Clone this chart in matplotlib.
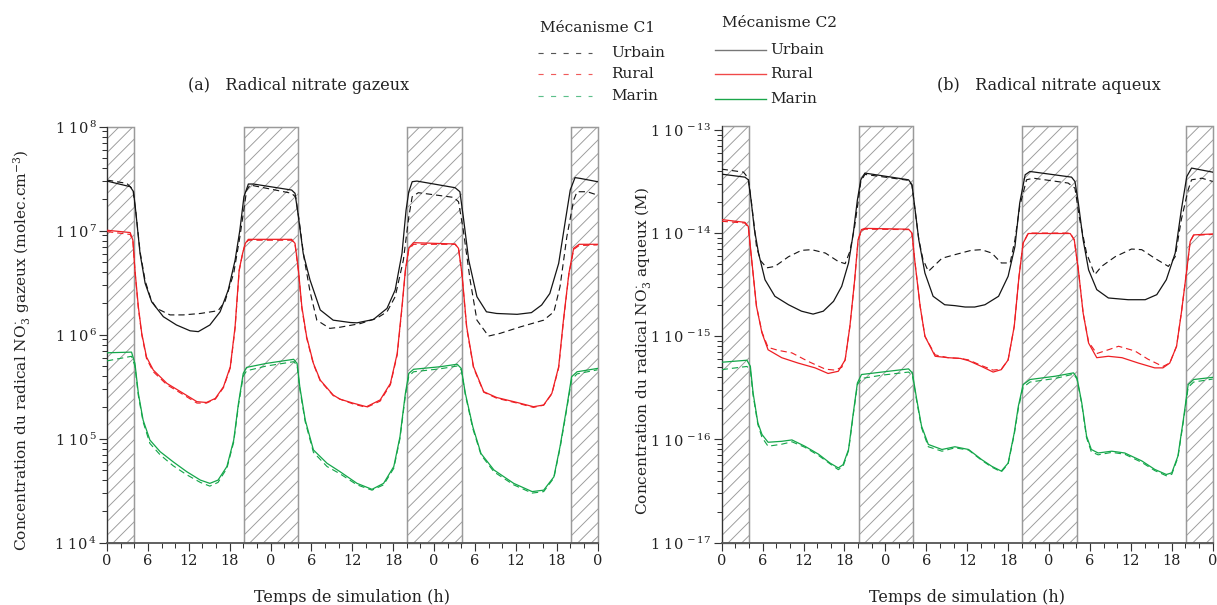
import numpy as np
import matplotlib
matplotlib.use("Agg")
import matplotlib.pyplot as plt
from matplotlib.lines import Line2D
from matplotlib.ticker import FixedLocator, FuncFormatter, LogLocator, NullFormatter

# ---------------------------------------------------------------- data
# Night periods (h) shown as hatched bands
night_starts = [0.0, 20.1, 44.1, 68.1]
night_ends = [4.0, 28.1, 52.1, 72.0]

# x axis: 3 days of simulation, labelled as the hour of the day
hour_ticks = [0, 6, 12, 18, 24, 30, 36, 42, 48, 54, 60, 66, 72]
hour_labels = ["0", "6", "12", "18", "0", "6", "12", "18", "0", "6", "12", "18", "0"]

# (a) gas-phase NO3 radical (molec.cm-3)
gas_c2_urbain_h = [0, 3.4, 3.9, 4.25, 4.85, 5.6, 6.56, 8.27, 10.2, 12.2, 13.4, 15.1, 16.6, 17.8, 18.8,
                   19.5, 20.1, 20.75, 21.5, 27.1, 27.6, 28.1, 28.8, 29.8, 31.3, 33.2, 35.7, 36.7, 39.1,
                   41.1, 42.3, 43.3, 43.9, 44.3, 44.8, 45.5, 51.1, 51.8, 52.3, 53.1, 54.3, 55.7, 57.2,
                   60.2, 62.3, 63.8, 65.0, 66.3, 67.3, 68.0, 68.7, 69.5, 72]
gas_c2_urbain = [3.0e7, 2.65e7, 2.37e7, 1.47e7, 6.05e6, 3.12e6, 2.07e6, 1.49e6, 1.24e6, 1.09e6, 1.07e6,
                 1.24e6, 1.66e6, 2.69e6, 5.2e6, 1.01e7, 2.12e7, 2.81e7, 2.81e7, 2.46e7, 2.29e7, 1.36e7,
                 6.05e6, 3.36e6, 1.73e6, 1.38e6, 1.31e6, 1.30e6, 1.40e6, 1.79e6, 2.69e6, 6.05e6, 1.58e7,
                 2.37e7, 2.96e7, 3.0e7, 2.59e7, 2.37e7, 1.36e7, 5.2e6, 2.32e6, 1.66e6, 1.60e6, 1.57e6,
                 1.63e6, 1.93e6, 2.49e6, 4.85e6, 1.27e7, 2.46e7, 3.24e7, 3.18e7, 2.96e7]

gas_c1_urbain_h = [0, 2.9, 3.8, 4.25, 4.85, 5.6, 6.5, 7.3, 9.25, 11.2, 13.7, 16.3, 17.3, 18.6, 19.5,
                   20.5, 21.0, 27.1, 27.7, 28.2, 28.9, 29.8, 30.8, 32.7, 34.2, 37.2, 39.6, 41.1, 42.3,
                   43.5, 44.3, 44.8, 45.7, 50.9, 51.6, 52.3, 53.3, 54.3, 56.0, 57.7, 60.7, 64.1, 65.6,
                   66.5, 67.5, 68.5, 69.0, 70.5, 72]
gas_c1_urbain = [3.07e7, 2.85e7, 2.5e7, 1.48e7, 6.3e6, 3.3e6, 2.14e6, 1.79e6, 1.55e6, 1.55e6, 1.60e6,
                 1.70e6, 2.07e6, 3.9e6, 8.7e6, 2.45e7, 2.75e7, 2.29e7, 2.1e7, 1.26e7, 5.6e6, 2.6e6,
                 1.38e6, 1.15e6, 1.18e6, 1.28e6, 1.44e6, 1.66e6, 2.32e6, 5.2e6, 1.36e7, 2.12e7, 2.32e7,
                 2.09e7, 1.90e7, 1.01e7, 3.36e6, 1.38e6, 9.7e5, 1.03e6, 1.19e6, 1.38e6, 1.66e6, 2.9e6,
                 8.75e6, 1.97e7, 2.37e7, 2.37e7, 2.2e7]

gas_rural_h = [0, 3.4, 3.8, 4.1, 4.6, 5.1, 5.8, 6.8, 8.8, 11.2, 13.2, 14.6, 15.9, 17.1, 18.1, 18.8,
               19.4, 19.9, 20.3, 20.75, 27.1, 27.6, 28.1, 28.6, 29.3, 30.3, 31.3, 33.2, 34.2, 36.2,
               38.1, 40.1, 41.6, 42.6, 43.3, 43.8, 44.3, 45.0, 51.1, 51.6, 52.1, 52.8, 53.8, 55.3,
               57.2, 60.2, 62.6, 64.1, 65.3, 66.3, 67.0, 67.8, 68.5, 69.3, 72]
gas_c2_rural = [1.01e7, 9.6e6, 8.1e6, 4.2e6, 1.86e6, 1.03e6, 6.1e5, 4.57e5, 3.4e5, 2.73e5, 2.27e5,
                2.23e5, 2.44e5, 3.16e5, 4.92e5, 1.19e6, 4.19e6, 6.05e6, 7.55e6, 8.26e6, 8.26e6, 7.55e6,
                4.19e6, 1.86e6, 9.6e5, 5.3e5, 3.66e5, 2.63e5, 2.4e5, 2.19e5, 2.03e5, 2.36e5, 3.4e5,
                6.6e5, 1.86e6, 4.19e6, 6.76e6, 7.67e6, 7.45e6, 6.76e6, 3.89e6, 1.19e6, 4.92e5, 2.83e5,
                2.49e5, 2.23e5, 2.03e5, 2.11e5, 2.73e5, 4.92e5, 1.38e6, 3.89e6, 6.76e6, 7.4e6, 7.4e6]
gas_c1_rural = [9.8e6, 9.2e6, 8.0e6, 4.1e6, 1.8e6, 1.0e6, 5.9e5, 4.4e5, 3.3e5, 2.65e5, 2.2e5,
                2.2e5, 2.4e5, 3.1e5, 4.8e5, 1.15e6, 4.1e6, 6.0e6, 7.5e6, 8.1e6, 8.1e6, 7.4e6,
                4.1e6, 1.8e6, 9.3e5, 5.2e5, 3.6e5, 2.6e5, 2.4e5, 2.15e5, 2.0e5, 2.3e5, 3.3e5,
                6.4e5, 1.8e6, 4.1e6, 6.6e6, 7.4e6, 7.4e6, 6.7e6, 3.8e6, 1.15e6, 4.8e5, 2.8e5,
                2.45e5, 2.2e5, 2.0e5, 2.1e5, 2.7e5, 4.8e5, 1.35e6, 3.8e6, 6.6e6, 7.2e6, 7.3e6]

gas_marin_h = [0, 3.6, 4.1, 4.6, 5.3, 6.3, 7.8, 9.7, 11.7, 13.7, 15.1, 16.3, 17.6, 18.6, 19.3, 20.0,
               20.5, 23.4, 27.4, 27.9, 28.3, 29.1, 30.3, 32.3, 34.2, 36.7, 38.9, 40.6, 42.1, 43.0,
               43.8, 44.3, 45.0, 48.9, 51.4, 52.0, 52.6, 53.7, 54.9, 56.8, 59.7, 62.4, 64.1, 65.6,
               66.5, 67.5, 68.2, 69.0, 72]
gas_c2_marin = [6.7e5, 6.8e5, 5.3e5, 2.73e5, 1.51e5, 9.7e4, 7.5e4, 6.0e4, 4.82e4, 4.0e4, 3.72e4,
                4.0e4, 5.4e4, 9.7e4, 2.19e5, 4.25e5, 4.85e5, 5.3e5, 5.8e5, 5.3e5, 3.16e5, 1.51e5,
                7.8e4, 5.8e4, 4.82e4, 3.72e4, 3.26e4, 3.72e4, 5.4e4, 1.04e5, 2.73e5, 4.25e5, 4.65e5,
                4.92e5, 5.2e5, 4.74e5, 2.73e5, 1.3e5, 7.2e4, 5.0e4, 3.72e4, 3.1e4, 3.2e4, 4.3e4,
                8.4e4, 2.03e5, 3.94e5, 4.4e5, 4.74e5]
gas_c1_marin = [5.6e5, 6.2e5, 5.0e5, 2.6e5, 1.45e5, 9.0e4, 7.0e4, 5.5e4, 4.5e4, 3.8e4, 3.5e4,
                3.8e4, 5.2e4, 9.3e4, 2.1e5, 4.0e5, 4.5e5, 5.0e5, 5.5e5, 5.1e5, 3.0e5, 1.45e5,
                7.4e4, 5.4e4, 4.6e4, 3.6e4, 3.2e4, 3.6e4, 5.2e4, 1.0e5, 2.6e5, 4.0e5, 4.4e5,
                4.7e5, 5.0e5, 4.6e5, 2.65e5, 1.25e5, 7.0e4, 4.8e4, 3.6e4, 3.0e4, 3.1e4, 4.2e4,
                8.1e4, 1.95e5, 3.7e5, 4.2e5, 4.6e5]

# (b) aqueous-phase NO3 radical (M)
aq_c2_urbain_h = [0, 3.4, 3.9, 4.3, 4.8, 5.4, 6.35, 7.8, 9.8, 11.7, 13.4, 14.9, 16.4, 17.6, 18.6, 19.3,
                  19.9, 20.4, 21.0, 27.4, 27.9, 28.3, 28.9, 29.8, 31.0, 32.7, 34.2, 35.7, 37.1, 38.6,
                  40.6, 42.0, 43.0, 43.7, 44.5, 45.2, 51.3, 51.8, 52.3, 53.0, 53.8, 55.0, 56.7, 59.6,
                  62.1, 63.8, 65.2, 66.5, 67.4, 68.2, 68.9, 72]
aq_c2_urbain = [3.72e-14, 3.48e-14, 3.28e-14, 2.1e-14, 1.08e-14, 6.4e-15, 3.53e-15, 2.44e-15, 2.02e-15,
                1.75e-15, 1.64e-15, 1.75e-15, 2.18e-15, 3.05e-15, 5.13e-15, 1.0e-14, 2.1e-14, 3.28e-14,
                3.81e-14, 3.28e-14, 2.94e-14, 1.81e-14, 8.6e-15, 4.1e-15, 2.44e-15, 2.02e-15, 1.98e-15,
                1.92e-15, 1.92e-15, 2.02e-15, 2.44e-15, 3.81e-15, 7.4e-15, 1.95e-14, 3.67e-14, 3.95e-14,
                3.48e-14, 3.16e-14, 1.95e-14, 8.6e-15, 4.4e-15, 2.83e-15, 2.35e-15, 2.26e-15, 2.26e-15,
                2.53e-15, 3.53e-15, 6.4e-15, 1.68e-14, 3.53e-14, 4.26e-14, 3.89e-14]

aq_c1_urbain_h = [0, 3.2, 3.9, 4.3, 4.8, 5.1, 5.7, 6.6, 7.8, 9.8, 11.7, 13.2, 15.2, 17.1, 18.1, 18.8,
                  19.5, 20.0, 20.4, 21.0, 27.4, 27.9, 28.3, 28.9, 29.5, 30.3, 32.3, 34.3, 36.6, 38.1,
                  39.6, 41.0, 42.3, 43.0, 43.7, 44.7, 45.7, 50.8, 51.8, 52.5, 53.5, 54.7, 55.7, 57.7,
                  60.1, 61.6, 63.5, 65.5, 66.5, 67.4, 68.4, 68.9, 70.4, 72]
aq_c1_urbain = [4.16e-14, 3.89e-14, 3.4e-14, 2.15e-14, 1.12e-14, 7.4e-15, 5.4e-15, 4.6e-15, 4.75e-15,
                5.9e-15, 6.8e-15, 6.9e-15, 6.4e-15, 5.3e-15, 5.05e-15, 6.65e-15, 1.16e-14, 2.0e-14,
                3.16e-14, 3.7e-14, 3.24e-14, 2.9e-14, 1.78e-14, 8.7e-15, 5.6e-15, 4.25e-15, 5.7e-15,
                6.2e-15, 6.8e-15, 6.9e-15, 6.4e-15, 5.13e-15, 5.13e-15, 8.6e-15, 1.81e-14, 3.28e-14,
                3.4e-14, 3.05e-14, 2.72e-14, 1.35e-14, 6.4e-15, 3.95e-15, 4.75e-15, 5.9e-15, 7.0e-15,
                6.9e-15, 5.7e-15, 4.75e-15, 5.9e-15, 1.35e-14, 2.62e-14, 3.28e-14, 3.4e-14, 3.16e-14]

aq_c2_rural_h = [0, 3.4, 3.9, 4.4, 5.1, 5.9, 6.8, 8.8, 11.2, 13.7, 15.6, 17.1, 18.1, 18.8, 19.5, 20.0,
                 20.5, 21.0, 27.4, 27.9, 28.3, 29.1, 29.8, 31.3, 33.2, 35.0, 36.2, 38.1, 39.8, 41.0,
                 42.0, 42.9, 43.6, 44.2, 44.96, 51.1, 51.7, 52.3, 53.0, 53.8, 55.0, 56.7, 58.7, 61.1,
                 63.5, 64.7, 65.7, 66.7, 67.4, 68.2, 68.7, 69.2, 72]
aq_c2_rural = [1.35e-14, 1.27e-14, 1.16e-14, 5.5e-15, 1.95e-15, 1.08e-15, 7.4e-16, 6.2e-16, 5.5e-16,
               4.94e-16, 4.36e-16, 4.58e-16, 5.9e-16, 1.25e-15, 3.53e-15, 8.6e-15, 1.08e-14, 1.11e-14,
               1.09e-14, 1.0e-14, 5.5e-15, 1.95e-15, 1.0e-15, 6.4e-16, 6.2e-16, 6.1e-16, 5.8e-16,
               5.1e-16, 4.5e-16, 4.75e-16, 5.9e-16, 1.25e-15, 3.81e-15, 8.0e-15, 9.9e-15, 9.9e-15,
               8.6e-15, 4.4e-15, 1.68e-15, 8.6e-16, 6.2e-16, 6.4e-16, 6.2e-16, 5.5e-16, 4.94e-16,
               4.94e-16, 5.5e-16, 8.0e-16, 1.68e-15, 4.4e-15, 8.3e-15, 9.6e-15, 9.8e-15]

aq_c1_rural_h = [0, 3.4, 3.9, 4.4, 5.1, 5.9, 6.8, 8.3, 10.3, 12.7, 15.2, 16.6, 17.6, 18.1, 18.8, 19.5,
                 20.0, 20.5, 21.0, 27.4, 27.9, 28.3, 29.1, 29.8, 31.3, 33.2, 35.0, 36.2, 38.1, 39.8,
                 41.0, 42.0, 42.9, 43.6, 44.2, 44.96, 51.1, 51.7, 52.3, 53.0, 53.8, 55.0, 56.7, 58.2,
                 60.6, 62.5, 64.7, 65.7, 66.7, 67.4, 68.2, 68.7, 69.2, 72]
aq_c1_rural = [1.3e-14, 1.25e-14, 1.14e-14, 5.4e-15, 1.95e-15, 1.1e-15, 7.8e-16, 7.3e-16, 6.9e-16,
               5.7e-16, 4.8e-16, 4.7e-16, 5.0e-16, 5.9e-16, 1.25e-15, 3.5e-15, 8.5e-15, 1.06e-14,
               1.09e-14, 1.08e-14, 9.9e-15, 5.5e-15, 1.95e-15, 1.0e-15, 6.6e-16, 6.2e-16, 6.1e-16,
               5.9e-16, 5.2e-16, 4.7e-16, 4.8e-16, 5.9e-16, 1.25e-15, 3.8e-15, 8.0e-15, 1.0e-14,
               1.0e-14, 8.6e-15, 4.4e-15, 1.68e-15, 8.8e-16, 6.8e-16, 7.4e-16, 8.0e-16, 7.2e-16,
               6.0e-16, 5.1e-16, 5.5e-16, 8.0e-16, 1.68e-15, 4.4e-15, 8.3e-15, 9.5e-15, 9.7e-15]

aq_marin_h = [0, 3.7, 4.2, 4.6, 5.3, 5.9, 6.8, 8.8, 10.3, 12.2, 14.2, 15.9, 17.1, 17.8, 18.6, 19.3,
              19.9, 20.5, 23.5, 27.4, 27.96, 28.6, 29.3, 30.3, 32.3, 34.2, 36.2, 38.1, 39.6, 41.0,
              42.0, 42.9, 43.5, 44.2, 45.2, 48.9, 51.6, 52.1, 52.8, 53.5, 54.2, 55.2, 57.2, 59.1,
              61.6, 63.5, 65.2, 66.0, 66.9, 67.7, 68.4, 69.2, 72]
aq_c2_marin = [5.6e-16, 5.86e-16, 5.13e-16, 2.83e-16, 1.45e-16, 1.12e-16, 9.4e-17, 9.6e-17, 9.9e-17,
               8.6e-17, 7.2e-17, 5.9e-17, 5.3e-17, 5.7e-17, 8.0e-17, 1.81e-16, 3.53e-16, 4.26e-16,
               4.5e-16, 4.83e-16, 4.42e-16, 2.44e-16, 1.35e-16, 8.95e-17, 8.0e-17, 8.5e-17, 8.0e-17,
               6.4e-17, 5.5e-17, 4.94e-17, 5.9e-17, 1.16e-16, 2.1e-16, 3.4e-16, 3.81e-16, 4.1e-16,
               4.42e-16, 3.95e-16, 2.26e-16, 1.08e-16, 8.0e-17, 7.4e-17, 7.7e-17, 7.4e-17, 6.2e-17,
               5.13e-17, 4.58e-17, 4.75e-17, 6.9e-17, 1.56e-16, 3.4e-16, 3.81e-16, 4.0e-16]
aq_c1_marin = [4.75e-16, 5.1e-16, 4.7e-16, 2.7e-16, 1.4e-16, 1.05e-16, 8.6e-17, 9.0e-17, 9.5e-17,
               8.4e-17, 7.0e-17, 5.8e-17, 5.1e-17, 5.5e-17, 7.8e-17, 1.75e-16, 3.4e-16, 3.9e-16,
               4.2e-16, 4.5e-16, 4.2e-16, 2.35e-16, 1.3e-16, 8.5e-17, 7.7e-17, 8.3e-17, 7.9e-17,
               6.3e-17, 5.4e-17, 4.85e-17, 5.8e-17, 1.12e-16, 2.0e-16, 3.2e-16, 3.6e-16, 3.9e-16,
               4.3e-16, 3.85e-16, 2.2e-16, 1.04e-16, 7.6e-17, 7.1e-17, 7.5e-17, 7.2e-17, 6.0e-17,
               5.0e-17, 4.45e-17, 4.6e-17, 6.7e-17, 1.5e-16, 3.2e-16, 3.6e-16, 3.85e-16]

scenario_names = ["Urbain", "Rural", "Marin"]

# ---------------------------------------------------------------- style
DPI = 82
W, H = 1217, 605
BLACK, RED, GREEN = "#151515", "#ee1f24", "#14a64a"
TXT = "#222222"
FONT = "DejaVu Serif"

plt.rcParams["font.family"] = [FONT]
plt.rcParams["mathtext.fontset"] = "dejavuserif"
plt.rcParams["hatch.linewidth"] = 0.8

fig = plt.figure(figsize=(W / DPI, H / DPI), dpi=DPI)


def fx(px):
    return px / W


def fy(py):
    return 1 - py / H


def sci_label(v, pos):
    e = int(round(np.log10(v)))
    return r"1 10$^{\,%d}$" % e


def style_axes(ax, ylo, yhi):
    ax.set_yscale("log")
    ax.set_xlim(0, 72)
    ax.set_ylim(ylo, yhi)
    for s in ("top", "right"):
        ax.spines[s].set_visible(False)
    ax.spines["left"].set_color("#333333")
    ax.spines["left"].set_linewidth(1.0)
    ax.spines["bottom"].set_color("#555555")
    ax.spines["bottom"].set_linewidth(1.6)
    ax.xaxis.set_major_locator(FixedLocator(hour_ticks))
    ax.set_xticklabels(hour_labels)
    ax.xaxis.set_minor_locator(FixedLocator(np.arange(0, 73, 2)))
    ax.yaxis.set_major_locator(LogLocator(base=10, numticks=20))
    ax.yaxis.set_minor_locator(LogLocator(base=10, subs=np.arange(2, 10), numticks=20))
    ax.yaxis.set_major_formatter(FuncFormatter(sci_label))
    ax.yaxis.set_minor_formatter(NullFormatter())
    ax.tick_params(axis="both", which="major", direction="out", length=7, width=1.0,
                   color="#333333", labelsize=12.8, labelcolor=TXT)
    ax.tick_params(axis="both", which="minor", direction="out", length=4, width=0.9,
                   color="#333333")
    ax.tick_params(axis="x", which="major", pad=3)
    ax.tick_params(axis="y", which="major", pad=2)
    for a, b in zip(night_starts, night_ends):
        ax.axvspan(a, b, facecolor="none", edgecolor="#9a9a9a", hatch="//", linewidth=1.3,
                   zorder=0, clip_on=False)
    ax.set_xlabel("Temps de simulation (h)", fontsize=14, color=TXT, labelpad=18)


def draw_series(ax, h, vals, color, solid):
    if solid:
        ax.plot(h, vals, color=color, lw=1.1, solid_joinstyle="round", zorder=3)
    else:
        ax.plot(h, vals, color=color, lw=1.0, dashes=(5.5, 3.5), zorder=3)


# ---------------------------------------------------------------- (a) gas phase
ax1 = fig.add_axes([fx(107), fy(542.7), fx(597.5) - fx(107), fy(126.7) - fy(542.7)])
style_axes(ax1, 1e4, 1e8)
draw_series(ax1, gas_c1_urbain_h, gas_c1_urbain, BLACK, False)
draw_series(ax1, gas_rural_h, gas_c1_rural, RED, False)
draw_series(ax1, gas_marin_h, gas_c1_marin, GREEN, False)
draw_series(ax1, gas_c2_urbain_h, gas_c2_urbain, BLACK, True)
draw_series(ax1, gas_rural_h, gas_c2_rural, RED, True)
draw_series(ax1, gas_marin_h, gas_c2_marin, GREEN, True)
ax1.set_ylabel(r"Concentration du radical NO$_3^{\cdot}$ gazeux (molec.cm$^{-3}$)",
               fontsize=13.5, color=TXT)
ax1.yaxis.set_label_coords((33 - 107) / 490.5, 0.463)

# ---------------------------------------------------------------- (b) aqueous phase
ax2 = fig.add_axes([fx(721.7), fy(542.7), fx(1212.7) - fx(721.7), fy(125.7) - fy(542.7)])
style_axes(ax2, 1e-17, 10 ** -12.96)
draw_series(ax2, aq_c1_urbain_h, aq_c1_urbain, BLACK, False)
draw_series(ax2, aq_c1_rural_h, aq_c1_rural, RED, False)
draw_series(ax2, aq_marin_h, aq_c1_marin, GREEN, False)
draw_series(ax2, aq_c2_urbain_h, aq_c2_urbain, BLACK, True)
draw_series(ax2, aq_c2_rural_h, aq_c2_rural, RED, True)
draw_series(ax2, aq_marin_h, aq_c2_marin, GREEN, True)
ax2.set_ylabel(r"Concentration du radical NO$_3^{\cdot}$ aqueux (M)",
               fontsize=13.5, color=TXT)
ax2.yaxis.set_label_coords((653 - 721.7) / 491.0, 0.46)

# panel titles
fig.text(fx(299), fy(86), "(a)   Radical nitrate gazeux", ha="center", va="center",
         fontsize=14, color=TXT)
fig.text(fx(1049), fy(86), "(b)   Radical nitrate aqueux", ha="center", va="center",
         fontsize=14, color=TXT)

# ---------------------------------------------------------------- legend
fig.text(fx(598), fy(28), "Mécanisme C1", ha="center", va="center", fontsize=13.5, color=TXT)
fig.text(fx(780), fy(23), "Mécanisme C2", ha="center", va="center", fontsize=13.5, color=TXT)
c1_colors = ["#555555", "#f05a5a", "#5cbf8a"]
c2_colors = ["#777777", "#f04848", "#1aa64a"]
c1_rows = [53, 74, 96]
c2_rows = [50, 74, 99]
for name, col, row in zip(scenario_names, c1_colors, c1_rows):
    fig.add_artist(Line2D([fx(538), fx(592)], [fy(row), fy(row)], color=col, lw=1.0,
                          dashes=(4.5, 6.5), transform=fig.transFigure))
    fig.text(fx(611), fy(row), name, ha="left", va="center", fontsize=13.5, color=TXT)
for name, col, row in zip(scenario_names, c2_colors, c2_rows):
    fig.add_artist(Line2D([fx(715), fx(766)], [fy(row), fy(row)], color=col, lw=1.2,
                          transform=fig.transFigure))
    fig.text(fx(770), fy(row), name, ha="left", va="center", fontsize=13.5, color=TXT)

fig.savefig("out.png", dpi=DPI)
